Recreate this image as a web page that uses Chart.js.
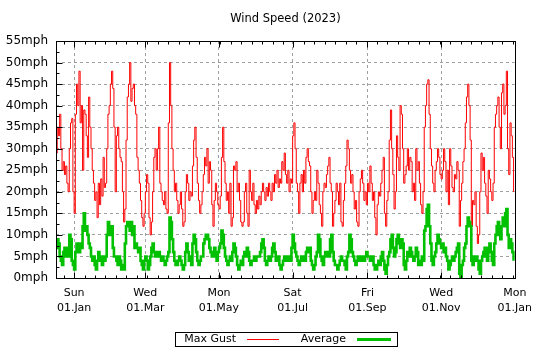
<!DOCTYPE html>
<html>
<head>
<meta charset="utf-8">
<script src="https://cdn.jsdelivr.net/npm/chart.js@4.4.1/dist/chart.umd.min.js"></script>
<style>
    html, body { margin: 0; padding: 0; background: #fff; }
    #grafica { display: block; }
</style>
</head>
<body>
<canvas id="grafica" width="540" height="350"></canvas>
<script>
// ── Datos (un valor por día, día 0 = 01.Jan.2023) ─────────────
const PRIMER_DIA = -15;

const maxGust = [
    29,35,33,38,30,25,27,24,26,22,20,30,36,37,20,15,          // -15..0
    38,45,40,48,36,40,25,39,38,33,28,42,                      // 1..12
    35,30,25,22,18,20,14,22,17,23,19,28,21,                   // 13..25
    22,30,38,40,45,48,44,35,20,33,35,30,28,27,20,             // 26..40
    13,16,32,42,45,50,41,44,45,40,                            // 41..50
    38,28,25,22,18,14,12,15,20,24,22,14,10,13,20,             // 51..65
    28,30,25,30,35,22,20,18,17,20,16,15,36,50,40,             // 66..80
    30,25,20,22,18,15,17,20,16,12,13,20,24,22,18,             // 81..95
    20,19,26,32,35,28,22,18,15,17,20,24,28,26,30,22,27,25,17, // 96..114
    12,18,22,20,17,16,19,28,35,27,
    22,18,20,15,22,12,14,26,25,27,
    20,22,18,13,12,13,20,22,15,12,
    25,20,18,22,17,15,18,16,19,17,
    20,22,20,18,21,19,22,20,18,22,
    20,24,22,25,21,23,22,27,25,29,
    24,22,25,20,23,                                           // 175..179
    22,33,36,30,22,20,15,22,24,20,
    25,22,28,30,27,26,20,15,18,20,
    18,25,22,17,15,12,20,22,21,24,
    26,28,22,20,12,15,18,22,20,17,
    22,13,12,18,22,26,32,30,25,22,
    24,20,16,18,13,12,20,23,25,22,
    18,20,17,22,                                              // 240..243
    20,26,22,18,20,14,10,17,20,19,
    22,25,28,15,12,18,20,32,39,30,
    24,16,20,33,28,25,40,38,30,22,
    24,26,30,25,28,27,20,22,18,30,
    25,27,22,17,15,20,35,40,45,46,
    38,30,26,22,20,25,27,30,28,24,
    23,25,30,27,20,                                           // 304..308
    25,17,30,26,21,20,24,23,27,25,
    12,18,22,27,30,36,42,45,40,32,
    12,18,17,20,12,8,10,20,29,25,
    28,22,19,15,25,23,20,18,22,35,
    38,40,42,35,30,43,45,38,40,48,
    30,24,36,33,28,20                                         // 359..364
];

const promedio = [
    7,9,8,5,4,3,6,7,5,7,5,10,9,4,3,2,
    6,8,7,6,8,7,12,15,11,12,10,8,
    7,5,4,5,3,2,4,6,5,4,3,5,4,
    5,10,13,12,10,12,7,5,5,4,3,5,4,2,3,
    2,8,12,13,12,11,13,10,12,7,
    8,7,6,7,4,3,2,4,5,4,2,3,5,7,8,
    6,5,6,5,6,5,4,5,4,3,4,5,6,14,13,
    9,6,4,3,3,4,5,4,3,2,3,6,8,6,4,
    5,3,8,10,9,6,4,3,4,5,5,8,9,10,10,9,7,6,5,
    6,7,5,4,6,7,8,11,10,7,
    5,4,3,4,5,4,6,8,7,5,
    3,2,3,4,3,5,6,5,7,6,
    4,3,4,4,5,4,5,5,5,6,
    8,9,7,4,3,4,5,4,5,7,
    8,6,4,5,5,3,2,3,4,5,
    4,5,4,5,4,
    7,10,8,6,5,4,3,4,5,4,
    5,4,6,7,6,7,4,3,2,3,
    5,6,10,9,5,4,3,5,6,5,
    6,5,9,10,6,4,3,3,2,3,
    4,5,4,4,3,2,5,6,10,9,
    6,5,4,3,4,5,4,5,4,5,
    4,5,6,5,
    5,4,4,5,3,2,2,3,4,3,
    5,6,4,2,1,3,5,6,9,10,
    7,5,6,9,10,8,7,9,8,3,
    2,4,6,5,7,6,5,4,5,7,
    6,3,4,3,5,4,11,12,16,17,
    12,8,4,3,5,6,8,10,9,8,
    7,8,6,7,5,
    4,2,3,4,5,4,5,6,7,8,
    1,0,3,4,7,8,12,14,13,12,
    4,3,5,4,5,4,2,1,4,5,
    6,7,5,4,7,8,6,4,3,8,
    10,12,13,10,9,12,14,12,15,16,
    10,7,9,8,6,4
];

// ── Ejes ──────────────────────────────────────────────────────
const diasTicks   = [0, 59, 120, 181, 243, 304, 365];
const diasSemana  = ['Sun', 'Wed', 'Mon', 'Sat', 'Fri', 'Wed', 'Mon'];
const fechasTicks = ['01.Jan', '01.Mar', '01.May', '01.Jul', '01.Sep', '01.Nov', '01.Jan'];
const paso_menor_x = 8.65;   // días entre marcas menores
const paso_y  = 5;
const max_y   = 55;

const FUENTE = '"DejaVu Sans", sans-serif';
const GRIS   = '#a0a0a0';

const aPuntos = arr => arr.map((v, i) => ({ x: PRIMER_DIA + i, y: v }));

// ── Marco, marcas, título y leyenda ───────────────────────────
const marcoPlugin = {
    id: 'marco',
    afterDatasetsDraw(chart) {
        const { ctx, chartArea: a, scales: { x, y } } = chart;
        const L = Math.round(a.left) + 0.5, R = Math.round(a.right) + 0.5;
        const T = Math.round(a.top) + 0.5,  B = Math.round(a.bottom) + 0.5;
        ctx.save();
        ctx.strokeStyle = '#000';
        ctx.lineWidth = 1;
        ctx.beginPath();
        // marcas en x (abajo y arriba)
        for (let k = -2; k * paso_menor_x <= 365; k++) {
            const v = k * paso_menor_x;
            if (v < x.min) continue;
            const px = Math.round(x.getPixelForValue(v)) + 0.5;
            ctx.moveTo(px, B); ctx.lineTo(px, B - 3);
            ctx.moveTo(px, T); ctx.lineTo(px, T + 3);
        }
        diasTicks.forEach(v => {
            const px = Math.round(x.getPixelForValue(v)) + 0.5;
            ctx.moveTo(px, B); ctx.lineTo(px, B - 6);
            ctx.moveTo(px, T); ctx.lineTo(px, T + 6);
        });
        // marcas en y
        for (let v = 0; v <= max_y; v += paso_y / 2) {
            const py = Math.round(y.getPixelForValue(v)) + 0.5;
            const largo = (v % paso_y === 0) ? 6 : 3;
            ctx.moveTo(L, py); ctx.lineTo(L + largo, py);
        }
        ctx.stroke();
        ctx.strokeRect(L, T, R - L, B - T);
        ctx.restore();
    },
    afterDraw(chart) {
        const { ctx, chartArea: a } = chart;
        ctx.save();
        ctx.fillStyle = '#000';
        ctx.font = `11.5px ${FUENTE}`;
        ctx.textAlign = 'center';
        ctx.textBaseline = 'middle';
        ctx.fillText('Wind Speed (2023)', (a.left + a.right) / 2, 19);

        // leyenda con caja
        ctx.strokeStyle = '#000';
        ctx.lineWidth = 1;
        ctx.strokeRect(175.5, 332.5, 222, 14);
        ctx.font = `11px ${FUENTE}`;
        ctx.textAlign = 'right';
        ctx.fillText('Max Gust', 236, 339.5);
        ctx.fillText('Average', 346, 339.5);
        ctx.beginPath();
        ctx.strokeStyle = '#ff0000';
        ctx.moveTo(247, 339.5); ctx.lineTo(279, 339.5);
        ctx.stroke();
        ctx.beginPath();
        ctx.strokeStyle = '#00c000';
        ctx.lineWidth = 3;
        ctx.moveTo(357, 339.5); ctx.lineTo(391, 339.5);
        ctx.stroke();
        ctx.restore();
    }
};

Chart.defaults.font.family = FUENTE;
Chart.defaults.font.size = 11;
Chart.defaults.color = '#000';

new Chart(document.getElementById('grafica'), {
    type: 'line',
    data: {
        datasets: [
            {
                label: 'Average',
                data: aPuntos(promedio),
                borderColor: '#00c000',
                borderWidth: 2.6,
                stepped: true,
                pointRadius: 0,
                fill: false,
            },
            {
                label: 'Max Gust',
                data: aPuntos(maxGust),
                borderColor: '#ff0000',
                borderWidth: 1,
                stepped: true,
                pointRadius: 0,
                fill: false,
            }
        ]
    },
    options: {
        responsive: false,
        devicePixelRatio: 1,
        animation: false,
        layout: { padding: { top: 41, right: 24, bottom: 0, left: 0 } },
        plugins: {
            legend: { display: false },
            title: { display: false },
            tooltip: { enabled: false }
        },
        scales: {
            x: {
                type: 'linear',
                min: PRIMER_DIA,
                max: 365,
                afterBuildTicks: s => { s.ticks = diasTicks.map(v => ({ value: v })); },
                afterFit: s => { s.height = 72; },
                ticks: {
                    autoSkip: false,
                    maxRotation: 0,
                    padding: 8,
                    font: { size: 11, lineHeight: 1.35 },
                    callback: (v, i) => [diasSemana[i], fechasTicks[i]]
                },
                border: { display: false, dash: [3, 3] },
                grid: {
                    drawTicks: false,
                    color: c => (c.tick && c.tick.value === 365) ? 'rgba(0,0,0,0)' : GRIS
                }
            },
            y: {
                min: 0,
                max: max_y,
                afterFit: s => { s.width = 56; },
                ticks: {
                    stepSize: paso_y,
                    padding: 8,
                    font: { size: 12 },
                    callback: v => v + 'mph'
                },
                border: { display: false, dash: [3, 3] },
                grid: {
                    drawTicks: false,
                    color: c => (c.tick && (c.tick.value === 0 || c.tick.value === max_y)) ? 'rgba(0,0,0,0)' : GRIS
                }
            }
        }
    },
    plugins: [marcoPlugin]
});
</script>
</body>
</html>
